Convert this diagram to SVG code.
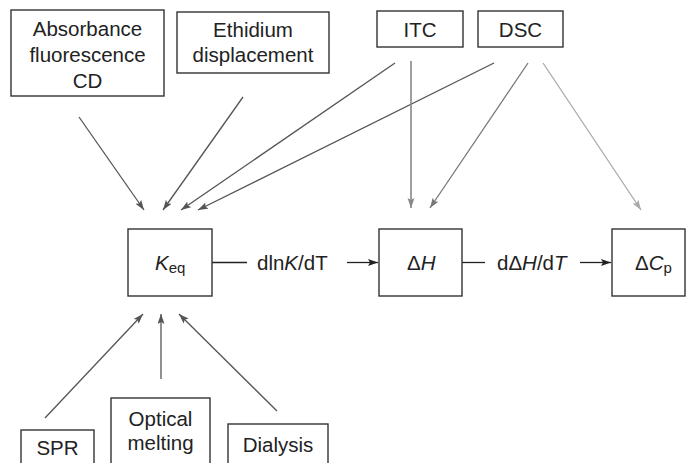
<svg xmlns="http://www.w3.org/2000/svg" width="686" height="463" viewBox="0 0 686 463">
<style>
.box{fill:#fff;stroke:#333;stroke-width:1.4}
text{font-family:"Liberation Sans",Arial,sans-serif;font-size:20.5px;fill:#222}
.c{text-anchor:middle}
.a1{stroke:#555;stroke-width:1.3;fill:none;marker-end:url(#m1)}
.a2{stroke:#888;stroke-width:1.6;fill:none;marker-end:url(#m2)}
.a3{stroke:#777;stroke-width:1.3;fill:none;marker-end:url(#m3)}
.a4{stroke:#aaa;stroke-width:1.3;fill:none;marker-end:url(#m4)}
.a0{stroke:#222;stroke-width:1.3;fill:none}
.ak{stroke:#222;stroke-width:1.3;fill:none;marker-end:url(#m0)}
</style>
<defs>
<marker id="m0" markerUnits="userSpaceOnUse" markerWidth="11" markerHeight="8" refX="10" refY="3.5" orient="auto"><path d="M0,0 L10,3.5 L0,7 L2,3.5 z" fill="#222"/></marker>
<marker id="m1" markerUnits="userSpaceOnUse" markerWidth="11" markerHeight="8" refX="10" refY="3.5" orient="auto"><path d="M0,0 L10,3.5 L0,7 L2,3.5 z" fill="#555"/></marker>
<marker id="m2" markerUnits="userSpaceOnUse" markerWidth="11" markerHeight="8" refX="10" refY="3.5" orient="auto"><path d="M0,0 L10,3.5 L0,7 L2,3.5 z" fill="#888"/></marker>
<marker id="m3" markerUnits="userSpaceOnUse" markerWidth="11" markerHeight="8" refX="10" refY="3.5" orient="auto"><path d="M0,0 L10,3.5 L0,7 L2,3.5 z" fill="#777"/></marker>
<marker id="m4" markerUnits="userSpaceOnUse" markerWidth="11" markerHeight="8" refX="10" refY="3.5" orient="auto"><path d="M0,0 L10,3.5 L0,7 L2,3.5 z" fill="#aaa"/></marker>
</defs>
<g id="connectors">
<line class="a1" x1="79" y1="117" x2="144" y2="210"/>
<line class="a1" x1="243" y1="97" x2="163" y2="210"/>
<line class="a1" x1="395" y1="63" x2="181" y2="210"/>
<line class="a1" x1="494" y1="63" x2="198" y2="210"/>
<line class="a2" x1="411" y1="61" x2="411" y2="208"/>
<line class="a3" x1="528" y1="63" x2="430" y2="208"/>
<line class="a4" x1="543" y1="63" x2="641" y2="210"/>
<line class="a1" x1="45" y1="418" x2="143" y2="314"/>
<line class="a1" x1="161" y1="379" x2="161" y2="314"/>
<line class="a1" x1="277" y1="411" x2="179" y2="314"/>
<line class="a0" x1="212" y1="262.5" x2="247" y2="262.5"/>
<line class="ak" x1="347" y1="262.5" x2="378" y2="262.5"/>
<line class="a0" x1="462" y1="262.5" x2="485" y2="262.5"/>
<line class="ak" x1="580" y1="262.5" x2="611" y2="262.5"/>
<text x="257" y="270">dln<tspan font-style="italic">K</tspan>/dT</text>
<text x="497" y="270">dΔ<tspan font-style="italic">H</tspan>/d<tspan font-style="italic">T</tspan></text>
</g>
<g id="absorbance">
<rect class="box" x="11" y="10" width="153" height="86"/>
<text class="c" x="87.5" y="36">Absorbance</text>
<text class="c" x="87.5" y="62">fluorescence</text>
<text class="c" x="87.5" y="88">CD</text>
</g>
<g id="ethidium">
<rect class="box" x="177" y="12" width="152" height="61"/>
<text class="c" x="253" y="37">Ethidium</text>
<text class="c" x="253" y="62">displacement</text>
</g>
<g id="itc">
<rect class="box" x="377" y="11" width="86" height="36"/>
<text class="c" x="420" y="36.5">ITC</text>
</g>
<g id="dsc">
<rect class="box" x="478" y="11" width="85" height="36"/>
<text class="c" x="520.5" y="36.5">DSC</text>
</g>
<g id="keq">
<rect class="box" x="128" y="229" width="84" height="67"/>
<text x="155" y="270"><tspan font-style="italic">K</tspan><tspan font-size="15" dy="3">eq</tspan></text>
</g>
<g id="dh">
<rect class="box" x="379" y="229" width="83" height="67"/>
<text x="407" y="270">Δ<tspan font-style="italic">H</tspan></text>
</g>
<g id="dcp">
<rect class="box" x="612" y="229" width="73" height="67"/>
<text x="635" y="270">Δ<tspan font-style="italic">C</tspan><tspan font-size="15" dy="3">p</tspan></text>
</g>
<g id="spr">
<rect class="box" x="21" y="430" width="73" height="40"/>
<text class="c" x="57.5" y="455">SPR</text>
</g>
<g id="optical">
<rect class="box" x="111" y="398" width="99" height="72"/>
<text class="c" x="160.5" y="426">Optical</text>
<text class="c" x="160.5" y="450">melting</text>
</g>
<g id="dialysis">
<rect class="box" x="228" y="424" width="100" height="46"/>
<text class="c" x="278" y="452">Dialysis</text>
</g>
</svg>
